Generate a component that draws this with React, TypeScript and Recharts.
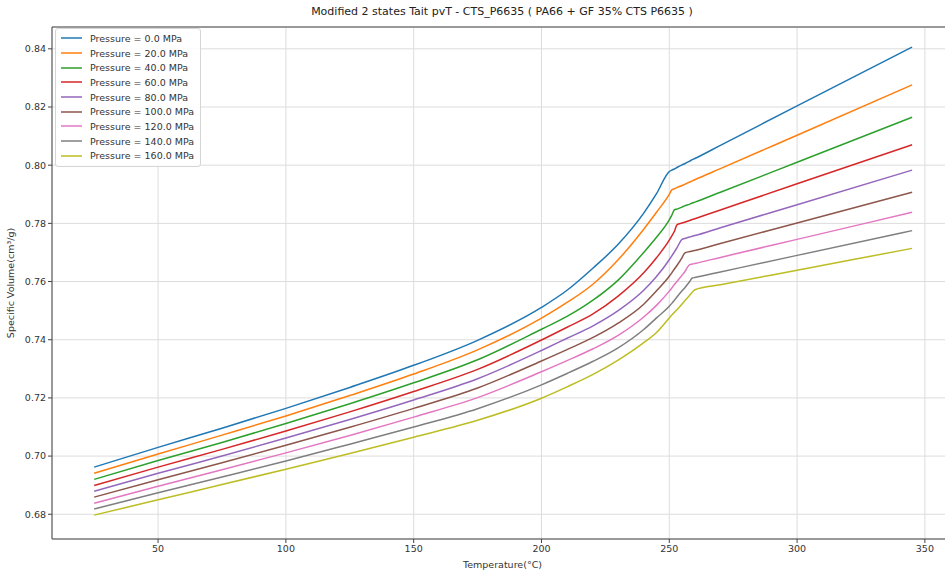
import { LineChart, Line, XAxis, YAxis, CartesianGrid, Legend, ReferenceLine } from 'recharts';

// temperature grid (°C)
const temps = [25, 50, 75, 100, 125, 150, 175, 200, 210, 220, 230, 240, 245, 250, 251, 252, 253, 255, 256, 258, 259, 260, 270, 300, 345];

// specific volume (cm³/g) per pressure
const p0 = [0.6962, 0.7030, 0.7096, 0.7164, 0.7236, 0.7312, 0.7398, 0.7511, 0.7570, 0.7645, 0.7728, 0.7835, 0.7902, 0.7978, 0.7983, 0.7987, 0.7992, 0.8001, 0.8005, 0.8014, 0.8019, 0.8023, 0.8068, 0.8204, 0.8406];
const p20 = [0.6941, 0.7007, 0.7072, 0.7138, 0.7208, 0.7282, 0.7365, 0.7474, 0.7528, 0.7590, 0.7675, 0.7780, 0.7838, 0.7900, 0.7915, 0.7919, 0.7923, 0.7930, 0.7934, 0.7942, 0.7946, 0.7950, 0.7988, 0.8103, 0.8276];
const p40 = [0.6920, 0.6985, 0.7047, 0.7112, 0.7180, 0.7252, 0.7331, 0.7436, 0.7480, 0.7535, 0.7605, 0.7700, 0.7752, 0.7812, 0.7828, 0.7846, 0.7849, 0.7856, 0.7860, 0.7866, 0.7870, 0.7873, 0.7907, 0.8010, 0.8165];
const p60 = [0.6899, 0.6962, 0.7023, 0.7086, 0.7152, 0.7222, 0.7298, 0.7399, 0.7443, 0.7488, 0.7550, 0.7630, 0.7682, 0.7742, 0.7757, 0.7773, 0.7795, 0.7801, 0.7804, 0.7810, 0.7813, 0.7816, 0.7846, 0.7936, 0.8070];
const p80 = [0.6879, 0.6941, 0.7000, 0.7062, 0.7126, 0.7193, 0.7266, 0.7363, 0.7405, 0.7447, 0.7500, 0.7570, 0.7617, 0.7675, 0.7688, 0.7702, 0.7716, 0.7745, 0.7748, 0.7753, 0.7756, 0.7758, 0.7785, 0.7864, 0.7983];
const p100 = [0.6859, 0.6919, 0.6977, 0.7037, 0.7099, 0.7164, 0.7234, 0.7327, 0.7366, 0.7407, 0.7457, 0.7522, 0.7568, 0.7618, 0.7630, 0.7643, 0.7655, 0.7682, 0.7698, 0.7703, 0.7705, 0.7707, 0.7731, 0.7801, 0.7907];
const p120 = [0.6838, 0.6896, 0.6953, 0.7011, 0.7071, 0.7134, 0.7201, 0.7290, 0.7328, 0.7368, 0.7415, 0.7478, 0.7518, 0.7567, 0.7578, 0.7590, 0.7600, 0.7622, 0.7633, 0.7658, 0.7660, 0.7662, 0.7683, 0.7745, 0.7838];
const p140 = [0.6818, 0.6874, 0.6928, 0.6983, 0.7041, 0.7100, 0.7163, 0.7245, 0.7284, 0.7325, 0.7372, 0.7435, 0.7475, 0.7515, 0.7525, 0.7536, 0.7547, 0.7568, 0.7578, 0.7600, 0.7612, 0.7614, 0.7633, 0.7690, 0.7775];
const p160 = [0.6797, 0.6850, 0.6902, 0.6955, 0.7009, 0.7065, 0.7123, 0.7199, 0.7238, 0.7280, 0.7330, 0.7390, 0.7425, 0.7475, 0.7485, 0.7494, 0.7503, 0.7523, 0.7533, 0.7553, 0.7563, 0.7572, 0.7589, 0.7639, 0.7714];

const pressures = [0, 20, 40, 60, 80, 100, 120, 140, 160];
const seriesValues = [p0, p20, p40, p60, p80, p100, p120, p140, p160];
const colors = ['#1f77b4', '#ff7f0e', '#2ca02c', '#d62728', '#9467bd', '#8c564b', '#e377c2', '#7f7f7f', '#bcbd22'];

const xTicks = [50, 100, 150, 200, 250, 300, 350];
const yTicks = [0.68, 0.7, 0.72, 0.74, 0.76, 0.78, 0.8, 0.82, 0.84];
const xDomain = [8.5, 361];
const yDomain = [0.6715, 0.8475];

const data = temps.map((t, i) => {
  const row: Record<string, number> = { temp: t };
  seriesValues.forEach((s, k) => {
    row['p' + pressures[k]] = s[i];
  });
  return row;
});

const FONT = '"DejaVu Sans", sans-serif';

const seriesIndex = (key: any) => pressures.indexOf(Number(String(key).slice(1)));

const PressureLegend = ({ payload }: any) => {
  const items = [...(payload || [])].sort((a: any, b: any) => seriesIndex(a.dataKey) - seriesIndex(b.dataKey));
  return (
    <div
      style={{
        background: 'rgba(255,255,255,0.85)',
        border: '1px solid #d6d6d6',
        borderRadius: 3,
        padding: '2px 6px 3px 5px',
        fontSize: 9.5,
        color: '#333',
        fontFamily: FONT,
      }}
    >
      {items.map((item: any) => (
        <div key={item.value} style={{ display: 'flex', alignItems: 'center', height: 14.7 }}>
          <svg width={21} height={6} style={{ marginRight: 8, display: 'block' }}>
            <line x1={0} y1={3} x2={21} y2={3} stroke={colors[seriesIndex(item.dataKey)]} strokeWidth={1.5} />
          </svg>
          <span>{item.value}</span>
        </div>
      ))}
    </div>
  );
};

const App = () => {
  return (
    <div
      style={{
        position: 'absolute',
        left: 0,
        top: 0,
        width: 945,
        height: 572,
        overflow: 'hidden',
        background: '#fff',
        fontFamily: FONT,
      }}
    >
      <div
        style={{
          position: 'absolute',
          left: 0,
          top: 5,
          width: 1004,
          textAlign: 'center',
          fontSize: 11,
          color: '#222',
        }}
      >
        Modified 2 states Tait pvT - CTS_P6635 ( PA66 + GF 35% CTS P6635 )
      </div>
      <LineChart width={953} height={572} data={data} margin={{ top: 27, right: 0, bottom: 0, left: 0 }}>
        <CartesianGrid stroke="#dddddd" strokeWidth={1} />
        <XAxis
          dataKey="temp"
          type="number"
          domain={xDomain}
          ticks={xTicks}
          height={33}
          tickSize={4}
          stroke="#444"
          tick={{ fontSize: 9.5, fill: '#333', fontFamily: FONT }}
          label={{
            content: ({ viewBox }: any) => (
              <text
                x={viewBox.x + viewBox.width / 2}
                y={viewBox.y + 29}
                textAnchor="middle"
                fontSize={9.5}
                fill="#333"
                fontFamily={FONT}
              >
                Temperature(°C)
              </text>
            ),
          }}
        />
        <YAxis
          type="number"
          domain={yDomain}
          ticks={yTicks}
          width={52}
          tickSize={4}
          stroke="#444"
          tickFormatter={(v: number) => v.toFixed(2)}
          tick={{ fontSize: 9.5, fill: '#333', fontFamily: FONT }}
          label={{
            content: ({ viewBox }: any) => {
              const cx = viewBox.x + 14;
              const cy = viewBox.y + viewBox.height / 2;
              return (
                <text
                  x={cx}
                  y={cy}
                  transform={`rotate(-90 ${cx} ${cy})`}
                  textAnchor="middle"
                  fontSize={9.5}
                  fill="#333"
                  fontFamily={FONT}
                >
                  Specific Volume(cm³/g)
                </text>
              );
            },
          }}
        />
        <ReferenceLine y={yDomain[1]} stroke="#444" />
        <Legend
          layout="vertical"
          align="center"
          verticalAlign="middle"
          content={<PressureLegend />}
          wrapperStyle={{ left: 55, top: 28, width: 'auto', height: 'auto' }}
        />
        {pressures.map((p, k) => (
          <Line
            key={p}
            type="monotoneX"
            dataKey={'p' + p}
            name={`Pressure = ${p.toFixed(1)} MPa`}
            stroke={colors[k]}
            strokeWidth={1.5}
            dot={false}
            activeDot={false}
            isAnimationActive={false}
          />
        ))}
      </LineChart>
    </div>
  );
};

export default App;
